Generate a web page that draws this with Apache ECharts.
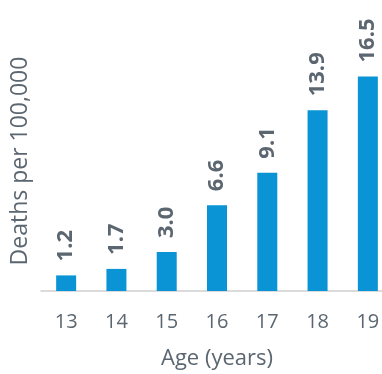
<!DOCTYPE html>
<html>
<head>
<meta charset="utf-8">
<script src="https://cdn.jsdelivr.net/npm/echarts@6/dist/echarts.min.js"></script>
<style>
  html, body { margin: 0; padding: 0; background: #fff; }
  #chart { width: 382px; height: 374px; }
</style>
</head>
<body>
<div id="chart"></div>
<script>
// Dữ liệu biểu đồ
const ages = ['13', '14', '15', '16', '17', '18', '19'];
const deaths = [1.2, 1.7, 3.0, 6.6, 9.1, 13.9, 16.5];

const textColor = '#5b6670';
const font = 'Open Sans';

const myChart = echarts.init(document.getElementById('chart'));

const option = {
  animation: false,
  grid: { left: 41, right: -11, top: 31, bottom: 83, outerBoundsMode: 'none', containLabel: false },
  xAxis: {
    type: 'category',
    data: ages,
    name: 'Age (years)',
    nameLocation: 'middle',
    nameGap: 57,
    nameTextStyle: { color: textColor, fontSize: 22, fontFamily: font },
    axisTick: { show: false },
    axisLine: { lineStyle: { color: '#d0d0d0', width: 1.5 } },
    axisLabel: { color: textColor, fontSize: 20, fontFamily: font, margin: 21 }
  },
  yAxis: {
    type: 'value',
    min: 0,
    max: 20,
    name: 'Deaths per 100,000',
    nameLocation: 'middle',
    nameGap: 9,
    nameTextStyle: { color: textColor, fontSize: 23, fontFamily: font },
    axisLine: { show: false },
    axisTick: { show: false },
    axisLabel: { show: false },
    splitLine: { show: false }
  },
  series: [{
    type: 'bar',
    data: deaths,
    barWidth: 20,
    itemStyle: { color: '#0a94d6' },
    label: {
      show: true,
      position: 'top',
      rotate: 90,
      align: 'left',
      verticalAlign: 'middle',
      distance: 14,
      color: textColor,
      fontSize: 22,
      fontWeight: 'bold',
      fontFamily: font,
      formatter: p => p.value.toFixed(1)
    }
  }]
};

myChart.setOption(option);
window.addEventListener('resize', () => myChart.resize());
</script>
</body>
</html>
